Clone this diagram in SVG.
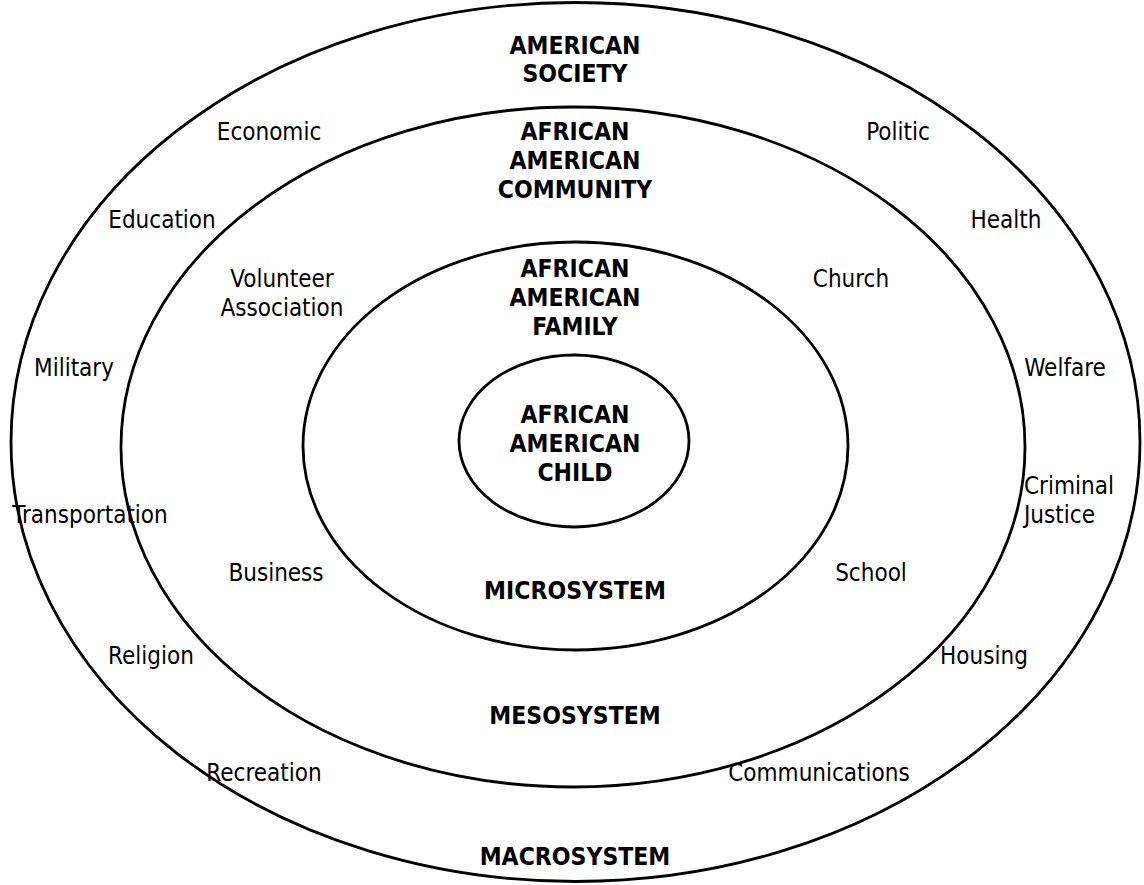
<svg xmlns="http://www.w3.org/2000/svg" width="1144" height="885" viewBox="0 0 1144 885">
  <style>
    .ring { fill: none; stroke: #000; stroke-width: 2.8; }
    .lbl { font-family: "DejaVu Sans Condensed", "DejaVu Sans", sans-serif; font-size: 24px; fill: #000; text-anchor: middle; }
    .hd { font-family: "DejaVu Sans Condensed", "DejaVu Sans", sans-serif; font-size: 24.5px; font-weight: bold; fill: #000; text-anchor: middle; }
    .left { text-anchor: start; }
  </style>
  <rect width="1144" height="885" fill="#fff"/>

  <g id="macrosystem">
    <ellipse class="ring" cx="575.5" cy="442" rx="564.5" ry="439.5"/>
    <text class="hd" x="575" y="54">AMERICAN</text>
    <text class="hd" x="575" y="82">SOCIETY</text>
    <text class="hd" x="575" y="865">MACROSYSTEM</text>
    <text class="lbl" x="269" y="140">Economic</text>
    <text class="lbl" x="898" y="140">Politic</text>
    <text class="lbl" x="162" y="228">Education</text>
    <text class="lbl" x="1006" y="228">Health</text>
    <text class="lbl" x="74" y="376">Military</text>
    <text class="lbl" x="1065" y="376">Welfare</text>
    <text class="lbl" x="90" y="523">Transportation</text>
    <text class="lbl left" x="1024" y="494">Criminal</text>
    <text class="lbl left" x="1024" y="523">Justice</text>
    <text class="lbl" x="151" y="664">Religion</text>
    <text class="lbl" x="984" y="664">Housing</text>
    <text class="lbl" x="264" y="781">Recreation</text>
    <text class="lbl" x="819" y="781">Communications</text>
  </g>

  <g id="mesosystem">
    <ellipse class="ring" cx="573" cy="447" rx="452" ry="340"/>
    <text class="hd" x="575" y="140">AFRICAN</text>
    <text class="hd" x="575" y="169">AMERICAN</text>
    <text class="hd" x="575" y="198">COMMUNITY</text>
    <text class="hd" x="575" y="724">MESOSYSTEM</text>
    <text class="lbl" x="282" y="287">Volunteer</text>
    <text class="lbl" x="282" y="316">Association</text>
    <text class="lbl" x="851" y="287">Church</text>
    <text class="lbl" x="276" y="581">Business</text>
    <text class="lbl" x="871" y="581">School</text>
  </g>

  <g id="microsystem">
    <ellipse class="ring" cx="575.5" cy="446" rx="272.5" ry="204"/>
    <text class="hd" x="575" y="277">AFRICAN</text>
    <text class="hd" x="575" y="306">AMERICAN</text>
    <text class="hd" x="575" y="335">FAMILY</text>
    <text class="hd" x="575" y="599">MICROSYSTEM</text>
  </g>

  <g id="child">
    <ellipse class="ring" cx="574" cy="441" rx="115" ry="86"/>
    <text class="hd" x="575" y="423">AFRICAN</text>
    <text class="hd" x="575" y="452">AMERICAN</text>
    <text class="hd" x="575" y="481">CHILD</text>
  </g>
</svg>
